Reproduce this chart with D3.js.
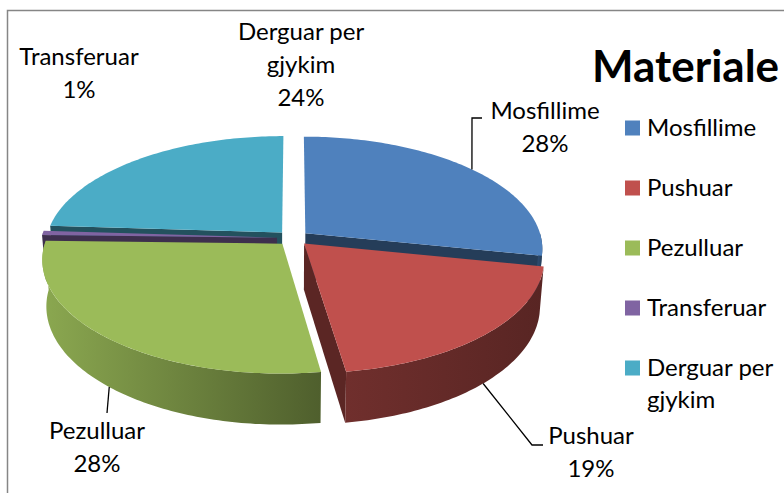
<!DOCTYPE html>
<html>
<head>
<meta charset="utf-8">
<script src="https://cdn.jsdelivr.net/npm/d3@7"></script>
<style>
body { margin: 0; background: #fff; }
text { font-family: Lato, "Open Sans", sans-serif; fill: #000; }
</style>
</head>
<body>
<div id="chart"></div>
<script>
// data (shares; they round to the printed labels)
var categories = ["Mosfillime", "Pushuar", "Pezulluar", "Transferuar", "Derguar per gjykim"];
var values = [28.2, 19.45, 27.75, 0.6, 24.0];
var labelLines = [["Mosfillime"], ["Pushuar"], ["Pezulluar"], ["Transferuar"], ["Derguar per", "gjykim"]];
var legendLines = [["Mosfillime"], ["Pushuar"], ["Pezulluar"], ["Transferuar"], ["Derguar per", "gjykim"]];
var titleText = "Materiale";

var colors = ["#4F81BD", "#C0504D", "#9BBB59", "#8064A2", "#4BACC6"];
// side wall shading (darker amount at left / right end)
var sideShade = [[1.3, 2.1], [1.5, 2.2], [0.3, 1.9], [1.5, 2.1], [1.5, 2.1]];

// layout
var layout = { w: 784, h: 493 };
var pie3d = {
	cx: 293,
	cy: 238,
	r: 236,
	tilt: 28 * Math.PI / 180,
	dist: 1550,
	depth: 53,
	explode: 16
};
// label anchors (baseline of first line), leader end points
var labelPos = [
	{ x: 545, y: 119, lead: [482, 118], stub: -10 },
	{ x: 591, y: 444, lead: [543, 445], stub: -11 },
	{ x: 97, y: 439, lead: [107, 413], stub: 0 },
	{ x: 79, y: 65, lead: null },
	{ x: 301, y: 40, lead: null }
];
var lineGap = 33;

var svg = d3.select("#chart").append("svg")
	.attr("width", layout.w)
	.attr("height", layout.h)
	.style("display", "block");

svg.append("rect").attr("width", layout.w).attr("height", layout.h).attr("fill", "#fff");

// chart frame (cropped at right and bottom)
svg.append("path")
	.attr("d", "M7.5," + layout.h + "V10.5H" + layout.w)
	.attr("fill", "none")
	.attr("stroke", "#868686")
	.attr("stroke-width", 1.5);

var total = d3.sum(values);
var arcs = d3.pie().sort(null).value(function(d){ return d; })(values);

function project(x, z, y){
	var c = Math.cos(pie3d.tilt), s = Math.sin(pie3d.tilt);
	var v = y * c - z * s;
	var w = z * c + y * s;
	var k = pie3d.dist / (pie3d.dist - w);
	return [pie3d.cx + x * k, pie3d.cy - v * k, w];
}

var slices = arcs.map(function(a, i){
	var m = (a.startAngle + a.endAngle) / 2;
	var ex = pie3d.explode * Math.sin(m),
		ez = -pie3d.explode * Math.cos(m);
	return {
		i: i,
		a0: a.startAngle,
		a1: a.endAngle,
		mid: m,
		rim: function(t, y){ return project(ex + pie3d.r * Math.sin(t), ez - pie3d.r * Math.cos(t), y); },
		center: function(y){ return project(ex, ez, y); }
	};
});

function arcPoints(sl, t0, t1, y){
	var n = Math.max(2, Math.ceil(Math.abs(t1 - t0) / (Math.PI / 180)));
	var pts = [];
	for(var j = 0; j <= n; j++){
		pts.push(sl.rim(t0 + (t1 - t0) * j / n, y));
	}
	return pts;
}

var line = d3.line().x(function(d){ return d[0]; }).y(function(d){ return d[1]; });
function closed(pts){ return line(pts) + "Z"; }

var defs = svg.append("defs");

// side faces, only the ones turned to the viewer
var faces = [];
slices.forEach(function(sl){
	var col = d3.color(colors[sl.i]);
	var d = -pie3d.depth;
	var lo = Math.max(sl.a0, Math.PI / 2), hi = Math.min(sl.a1, 3 * Math.PI / 2);
	if(hi > lo){
		var top = arcPoints(sl, lo, hi, 0),
			bot = arcPoints(sl, hi, lo, d);
		var pts = top.concat(bot);
		var xs = pts.map(function(p){ return p[0]; });
		var gid = "side" + sl.i;
		var g = defs.append("linearGradient")
			.attr("id", gid)
			.attr("gradientUnits", "userSpaceOnUse")
			.attr("x1", d3.min(xs)).attr("x2", d3.max(xs))
			.attr("y1", 0).attr("y2", 0);
		g.append("stop").attr("offset", 0).attr("stop-color", col.darker(sideShade[sl.i][0]));
		g.append("stop").attr("offset", 1).attr("stop-color", col.darker(sideShade[sl.i][1]));
		faces.push({ pts: pts, fill: "url(#" + gid + ")", w: d3.mean(pts, function(p){ return p[2]; }) });
	}
	if(Math.sin(sl.a0) < -1e-6){
		var p = [sl.center(0), sl.rim(sl.a0, 0), sl.rim(sl.a0, d), sl.center(d)];
		faces.push({ pts: p, fill: col.darker(2.1), w: d3.mean(p, function(q){ return q[2]; }) });
	}
	if(Math.sin(sl.a1) > 1e-6){
		var p2 = [sl.center(0), sl.rim(sl.a1, 0), sl.rim(sl.a1, d), sl.center(d)];
		faces.push({ pts: p2, fill: col.darker(2.1), w: d3.mean(p2, function(q){ return q[2]; }) });
	}
});
faces.sort(function(a, b){ return a.w - b.w; });

svg.append("g").attr("class", "sides")
	.selectAll("path")
	.data(faces)
	.enter().append("path")
	.attr("d", function(f){ return closed(f.pts); })
	.attr("fill", function(f){ return f.fill; });

// top faces
svg.append("g").attr("class", "tops")
	.selectAll("path")
	.data(slices)
	.enter().append("path")
	.attr("d", function(sl){ return closed([sl.center(0)].concat(arcPoints(sl, sl.a0, sl.a1, 0))); })
	.attr("fill", function(sl){ return colors[sl.i]; });

// leader lines
svg.append("g").attr("class", "leaders")
	.selectAll("path")
	.data(slices.filter(function(sl){ return labelPos[sl.i].lead; }))
	.enter().append("path")
	.attr("d", function(sl){
		var lp = labelPos[sl.i];
		var front = Math.cos(sl.mid) < 0;
		var p = sl.rim(sl.mid, front ? -pie3d.depth : 0);
		return line([[p[0], p[1]], [lp.lead[0] + lp.stub, lp.lead[1]], lp.lead]);
	})
	.attr("fill", "none")
	.attr("stroke", "#000")
	.attr("stroke-width", 1.3);

// data labels
var labels = svg.append("g").attr("class", "labels")
	.selectAll("text")
	.data(slices)
	.enter().append("text")
	.attr("text-anchor", "middle")
	.attr("font-size", 24)
	.attr("x", function(sl){ return labelPos[sl.i].x; })
	.attr("y", function(sl){ return labelPos[sl.i].y; });

labels.each(function(sl){
	var t = d3.select(this);
	var lp = labelPos[sl.i];
	var rows = labelLines[sl.i].concat([Math.round(values[sl.i] / total * 100) + "%"]);
	rows.forEach(function(r, k){
		t.append("tspan").attr("x", lp.x).attr("y", lp.y + k * lineGap).text(r);
	});
});

// title
svg.append("text")
	.attr("x", 592)
	.attr("y", 82)
	.attr("font-size", 44)
	.attr("font-weight", "bold")
	.text(titleText);

// legend
var legend = svg.append("g").attr("class", "legend")
	.selectAll("g")
	.data(categories)
	.enter().append("g")
	.attr("transform", function(d, i){ return "translate(625," + (128 + i * 60) + ")"; });

legend.append("rect")
	.attr("x", 0).attr("y", -7.5)
	.attr("width", 15).attr("height", 15)
	.attr("fill", function(d, i){ return colors[i]; });

legend.append("text")
	.attr("font-size", 24)
	.each(function(d, i){
		var t = d3.select(this);
		legendLines[i].forEach(function(r, k){
			t.append("tspan").attr("x", 22).attr("y", 8 + k * 32).text(r);
		});
	});
</script>
</body>
</html>
